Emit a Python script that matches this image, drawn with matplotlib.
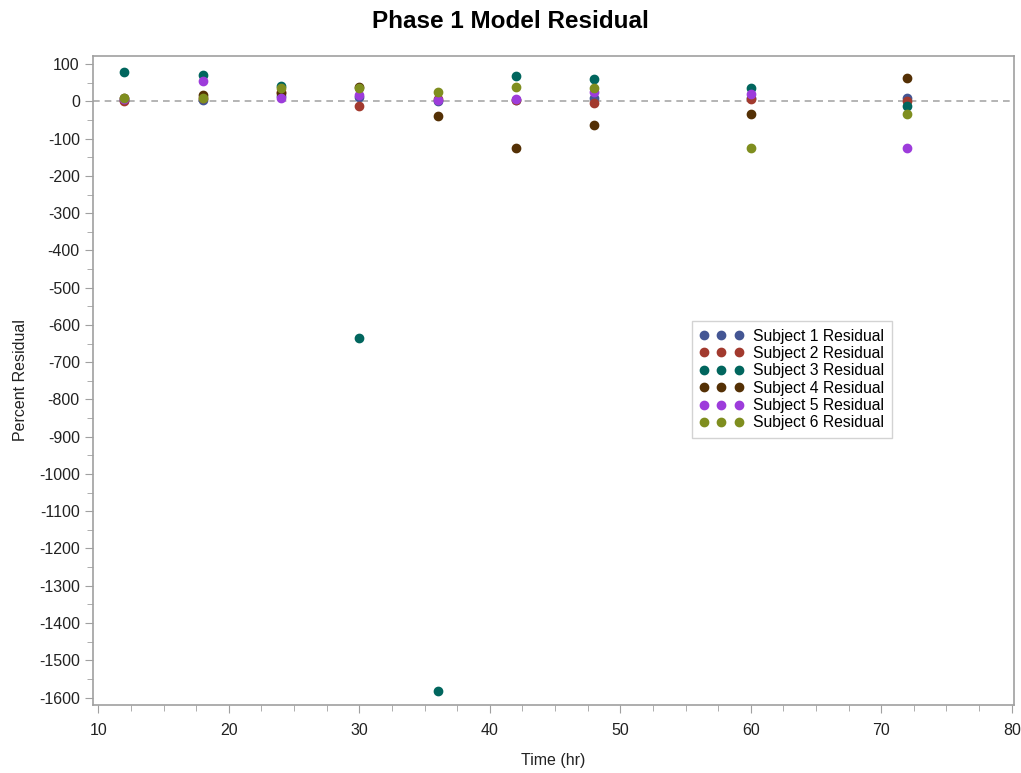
import matplotlib
matplotlib.use("Agg")
import matplotlib.pyplot as plt
from matplotlib.ticker import MultipleLocator

plt.rcParams['font.family'] = ['Liberation Sans', 'DejaVu Sans']
plt.rcParams['axes.unicode_minus'] = False

# time points (hr)
times = [12, 18, 24, 30, 36, 42, 48, 60, 72]

# percent residual per subject
subject1 = [3, 4, 15, 11, 0, 5, 10, 8, 9]
subject2 = [1, 8, 25, -11, 6, 3, -5, 6, 2]
subject3 = [78, 71, 42, -635, -1582, 69, 60, 35, -11]
subject4 = [8, 17, 22, 40, -39, -124, -63, -34, 62]
subject5 = [6, 56, 8, 17, 3, 7, 26, 19, -124]
subject6 = [10, 10, 35, 35, 25, 38, 35, -124, -34]

series = [subject1, subject2, subject3, subject4, subject5, subject6]
labels = ["Subject 1 Residual", "Subject 2 Residual", "Subject 3 Residual",
          "Subject 4 Residual", "Subject 5 Residual", "Subject 6 Residual"]
colors = ["#445694", "#A23A2E", "#01665E", "#543005", "#9D3CDB", "#7F8E1F"]

fig = plt.figure(figsize=(10.21, 7.73), dpi=100)
ax = fig.add_axes([0.0911, 0.088, 0.902, 0.8396])

ax.axhline(0, color="#A8A8A8", linestyle=(0, (4, 3)), linewidth=1.2, zorder=1)

for vals, lab, col in zip(series, labels, colors):
    ax.plot(times, vals, linestyle="none", marker="o", markersize=6,
            color=col, label=lab, zorder=3)

ax.set_xlim(9.59, 80.17)
ax.set_ylim(-1620, 122)
ax.xaxis.set_major_locator(MultipleLocator(10))
ax.xaxis.set_minor_locator(MultipleLocator(2.5))
ax.yaxis.set_major_locator(MultipleLocator(100))
ax.yaxis.set_minor_locator(MultipleLocator(50))

for s in ax.spines.values():
    s.set_color("#A0A0A0")
    s.set_linewidth(1.2)
ax.tick_params(which="both", color="#A0A0A0", labelcolor="#222222",
               labelsize=11.5)
ax.tick_params(axis="x", pad=7)
ax.tick_params(which="major", length=6)
ax.tick_params(which="minor", length=4)

ax.set_xlabel("Time (hr)", fontsize=11.5, color="#222222", labelpad=11)
ax.set_ylabel("Percent Residual", fontsize=11.5, color="#222222", labelpad=8)
fig.suptitle("Phase 1 Model Residual", fontsize=17.5, fontweight="bold",
             y=0.987)

leg = ax.legend(loc="upper left", bbox_to_anchor=(0.650, 0.592), numpoints=3,
                fontsize=11.3, frameon=True, fancybox=False, handlelength=2.8,
                handletextpad=0.6, labelspacing=0.15, borderpad=0.5,
                borderaxespad=0)
leg.get_frame().set_edgecolor("#C8C8C8")
leg.get_frame().set_linewidth(1.0)

fig.savefig("out.png", dpi=100)
